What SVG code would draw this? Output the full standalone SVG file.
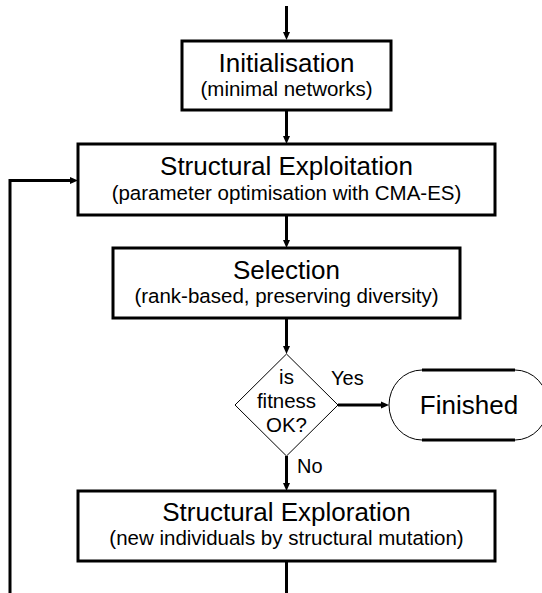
<svg xmlns="http://www.w3.org/2000/svg" width="542" height="593" viewBox="0 0 542 593">
<style>
.box{fill:#fff;stroke:#000;stroke-width:3}
.thin{fill:#fff;stroke:#000;stroke-width:1}
.edge{fill:none;stroke:#000;stroke-width:3}
.t{font-family:"Liberation Sans",Arial,sans-serif;fill:#000;text-anchor:middle}
.big{font-size:26px}
.sub{font-size:20.5px}
.lbl{font-family:"Liberation Sans",Arial,sans-serif;fill:#000;font-size:20px}
</style>
<defs>
<marker id="ah" markerUnits="userSpaceOnUse" markerWidth="10" markerHeight="10" refX="0" refY="4" orient="auto">
<path d="M0,0.5 L8,4 L0,7.5 z" fill="#000"/>
</marker>
</defs>
<rect width="542" height="593" fill="#fff"/>
<g id="connectors">
<line class="edge" x1="286.5" y1="6" x2="286.5" y2="32" marker-end="url(#ah)"/>
<line class="edge" x1="286.5" y1="110" x2="286.5" y2="136" marker-end="url(#ah)"/>
<line class="edge" x1="286.5" y1="215" x2="286.5" y2="240" marker-end="url(#ah)"/>
<line class="edge" x1="286.5" y1="318" x2="286.5" y2="346" marker-end="url(#ah)"/>
<line class="edge" x1="338" y1="405" x2="381" y2="405" marker-end="url(#ah)"/>
<line class="edge" x1="286.5" y1="456" x2="286.5" y2="483" marker-end="url(#ah)"/>
<polyline class="edge" points="286.5,561 286.5,593"/>
<polyline class="edge" points="10,593 10,180.5 70,180.5" marker-end="url(#ah)"/>
<text class="lbl" x="331" y="385">Yes</text>
<text class="lbl" x="297" y="473">No</text>
</g>
<g id="init">
<rect class="box" x="182" y="41" width="209" height="69"/>
<text class="t big" x="286.5" y="72">Initialisation</text>
<text class="t sub" x="286.5" y="96">(minimal networks)</text>
</g>
<g id="exploitation">
<rect class="box" x="78" y="144" width="417" height="71"/>
<text class="t big" x="286.5" y="175">Structural Exploitation</text>
<text class="t sub" x="286.5" y="200">(parameter optimisation with CMA-ES)</text>
</g>
<g id="selection">
<rect class="box" x="113" y="248" width="347" height="70"/>
<text class="t big" x="286.5" y="279">Selection</text>
<text class="t sub" x="286.5" y="303">(rank-based, preserving diversity)</text>
</g>
<g id="decision">
<polygon class="thin" points="286.5,354 338,405 286.5,456 235,405"/>
<text class="t sub" x="286.5" y="384">is</text>
<text class="t sub" x="286.5" y="408">fitness</text>
<text class="t sub" x="286.5" y="432">OK?</text>
</g>
<g id="finished">
<path class="thin" d="M422,370 A33,35 0 0 0 422,440 M515,370 A33,35 0 0 1 515,440"/>
<line class="edge" x1="422" y1="370" x2="515" y2="370"/>
<line class="edge" x1="422" y1="440" x2="515" y2="440"/>
<text class="t big" x="469" y="414">Finished</text>
</g>
<g id="exploration">
<rect class="box" x="78" y="491" width="417" height="70"/>
<text class="t big" x="286.5" y="521">Structural Exploration</text>
<text class="t sub" x="286.5" y="545">(new individuals by structural mutation)</text>
</g>
</svg>
